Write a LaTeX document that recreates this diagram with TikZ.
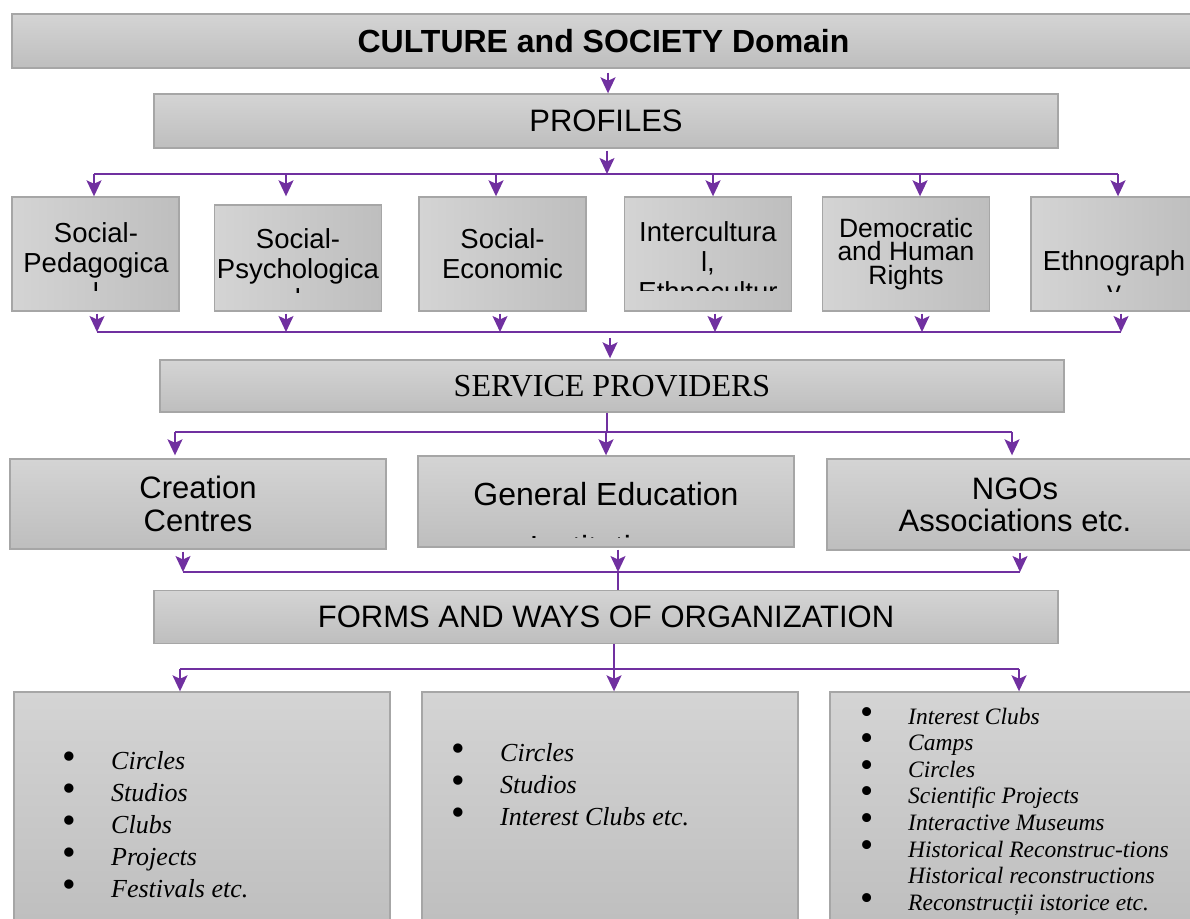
\documentclass[tikz,border=0pt]{standalone}
\usepackage{fontspec}
\setmainfont{Liberation Serif}
\newfontfamily\sfn{Liberation Sans}
\usetikzlibrary{arrows.meta}
\definecolor{arrc}{HTML}{7030A0}
\definecolor{bordc}{HTML}{A6A6A6}
\definecolor{shtop}{HTML}{D4D4D4}
\definecolor{shbot}{HTML}{BEBEBE}
\newcommand\bulA{\makebox[48.4pt][l]{\upshape\scalebox{1.5}{\textbullet}}}
\newcommand\bulB{\makebox[48.2pt][l]{\upshape\scalebox{1.6}{\textbullet}}}
\newcommand\nobul{\makebox[48.2pt][l]{}}
\tikzset{
  vbox/.style={draw=bordc, line width=1.4pt, top color=shtop, bottom color=shbot, inner sep=0pt, align=center},
  hbox/.style={draw=bordc, line width=1.4pt, left color=shtop, right color=shbot, inner sep=0pt, align=center},
  conn/.style={draw=arrc, line width=1.6pt},
  arr/.style={conn, -{Stealth[length=16pt,width=15pt,inset=3.5pt,color=arrc,fill=arrc]}},
  pfont/.style={font=\sfn\fontsize{27.5}{30}\selectfont},
  ptext/.style={pfont, inner sep=0pt, align=center, anchor=north},
  listtext/.style={inner sep=0pt, align=left, anchor=north west},
}
\begin{document}
\begin{tikzpicture}[x=1pt,y=-1pt]
\useasboundingbox (0,0) rectangle (1190,918);

% ---- boxes
\node[vbox, minimum width=1183, minimum height=54, font=\sfn\bfseries\fontsize{32}{36}\selectfont] (title) at (603.5,41) {CULTURE and SOCIETY Domain};
\node[vbox, minimum width=904, minimum height=54, font=\sfn\fontsize{31}{36}\selectfont] (profiles) at (606,121) {PROFILES};

\node[hbox, minimum width=167, minimum height=114] (p1) at (95.5,254) {};
\node[hbox, minimum width=167, minimum height=106] (p2) at (298,258) {};
\node[hbox, minimum width=167, minimum height=114, pfont] (p3) at (502.5,254) {Social-\\Economic};
\node[hbox, minimum width=167, minimum height=114] (p4) at (708,254) {};
\node[hbox, minimum width=167, minimum height=114, font=\sfn\fontsize{26.5}{23.5}\selectfont] (p5) at (906,254) {Democratic\\and Human\\Rights};
\node[hbox, minimum width=167, minimum height=114] (p6) at (1114.5,254) {};

\begin{scope}
  \clip (14,199) rectangle (178,290);
  \node[ptext] (t1) at (96,222) {Social-\\Pedagogica\\l};
\end{scope}
\begin{scope}
  \clip (216,207) rectangle (380,292);
  \node[ptext] (t2) at (298,228) {Social-\\Psychologica\\l};
\end{scope}
\begin{scope}
  \clip (626,199) rectangle (790,290);
  \node[ptext] (t4) at (708,221) {Intercultura\\l,\\Ethnocultur};
\end{scope}
\begin{scope}
  \clip (1032,199) rectangle (1196,291);
  \node[ptext] (t6) at (1114,250) {Ethnograph\\y};
\end{scope}

\node[vbox, minimum width=904, minimum height=52, font=\fontsize{32}{36}\selectfont] (service) at (612,386) {SERVICE PROVIDERS};

\node[vbox, minimum width=376, minimum height=90, font=\sfn\fontsize{31}{33}\selectfont] (creation) at (198,504) {Creation\\Centres};
\node[vbox, minimum width=376, minimum height=91] (gened) at (606,501.5) {};
\begin{scope}
  \clip (420,458) rectangle (792,537);
  \node[inner sep=0pt, align=center, anchor=north, font=\sfn\fontsize{32}{53}\selectfont] (t7) at (606,482) {General Education\\Institutions};
\end{scope}
\node[vbox, minimum width=376, minimum height=91, font=\sfn\fontsize{31}{32}\selectfont] (ngo) at (1015,504.5) {NGOs\\Associations etc.};

\node[vbox, minimum width=904, minimum height=53, font=\sfn\fontsize{31}{36}\selectfont] (forms) at (606,617) {FORMS AND WAYS OF ORGANIZATION};

\node[vbox, minimum width=376, minimum height=238] (l1) at (202,811) {};
\node[vbox, minimum width=376, minimum height=238] (l2) at (610,811) {};
\node[vbox, minimum width=376, minimum height=238] (l3) at (1018,811) {};

\node[listtext, font=\itshape\fontsize{26}{32}\selectfont] (list1) at (62.6,751.2)
  {\bulA Circles\\\bulA Studios\\\bulA Clubs\\\bulA Projects\\\bulA Festivals etc.};
\node[listtext, font=\itshape\fontsize{26}{32}\selectfont] (list2) at (451.6,743.2)
  {\bulA Circles\\\bulA Studios\\\bulA Interest Clubs etc.};
\node[listtext, font=\itshape\fontsize{23.5}{26.6}\selectfont] (list3) at (859.8,707)
  {\bulB Interest Clubs\\\bulB Camps\\\bulB Circles\\\bulB Scientific Projects\\\bulB Interactive Museums\\\bulB Historical Reconstruc-tions\\\nobul Historical reconstructions\\\bulB Reconstrucții istorice etc.};

% ---- connectors
\coordinate (j0) at (608,0);
\draw[arr, shorten <=4pt] (title.south -| j0) -- (profiles.north -| j0);

\coordinate (u0) at (607,174);
\coordinate (u1) at (94,174);
\coordinate (u2) at (286,174);
\coordinate (u3) at (496,174);
\coordinate (u4) at (713,174);
\coordinate (u5) at (920,174);
\coordinate (u6) at (1118,174);
\draw[arr, shorten <=2pt] (profiles.south -| u0) -- (u0);
\draw[conn] (u1) -- (u6);
\foreach \u in {u1,u2,u3,u4,u5,u6}
  \draw[arr] (\u) -- (\u |- p1.north);

\coordinate (v0) at (610,332);
\coordinate (v1) at (97,332);
\coordinate (v2) at (286,332);
\coordinate (v3) at (500,332);
\coordinate (v4) at (715,332);
\coordinate (v5) at (922,332);
\coordinate (v6) at (1121,332);
\draw[arr, shorten <=2pt] (v1 |- p1.south) -- (v1);
\draw[arr, shorten <=2pt] (v2 |- p2.south) -- (v2);
\draw[arr, shorten <=2pt] (v3 |- p3.south) -- (v3);
\draw[arr, shorten <=2pt] (v4 |- p4.south) -- (v4);
\draw[arr, shorten <=2pt] (v5 |- p5.south) -- (v5);
\draw[arr, shorten <=2pt] (v6 |- p6.south) -- (v6);
\draw[conn] (v1) -- (v6);
\draw[arr, shorten <=6pt, shorten >=1pt] (v0) -- (v0 |- service.north);

\coordinate (w0) at (607,432);
\coordinate (w1) at (175,432);
\coordinate (w2) at (606,432);
\coordinate (w3) at (1012,432);
\draw[conn] (service.south -| w0) -- (w0);
\draw[conn] (w1) -- (w3);
\draw[arr] (w1) -- (w1 |- gened.north);
\draw[arr] (w2) -- (w2 |- gened.north);
\draw[arr] (w3) -- (w3 |- gened.north);

\coordinate (x1) at (183,572);
\coordinate (x2) at (618,572);
\coordinate (x3) at (1020,572);
\draw[arr, shorten <=2pt] (x1 |- creation.south) -- (x1);
\draw[arr, shorten <=2pt] (x2 |- gened.south) -- (x2);
\draw[arr, shorten <=2pt] (x3 |- ngo.south) -- (x3);
\draw[conn] (x1) -- (x3);
\draw[conn] (x2) -- (x2 |- forms.north);

\coordinate (y0) at (614,669);
\coordinate (y1) at (180,669);
\coordinate (y3) at (1019,669);
\draw[conn] (forms.south -| y0) -- (y0);
\draw[conn] (y1) -- (y3);
\draw[arr] (y1) -- (y1 |- l1.north);
\draw[arr] (y0) -- (y0 |- l2.north);
\draw[arr] (y3) -- (y3 |- l3.north);
\end{tikzpicture}
\end{document}
